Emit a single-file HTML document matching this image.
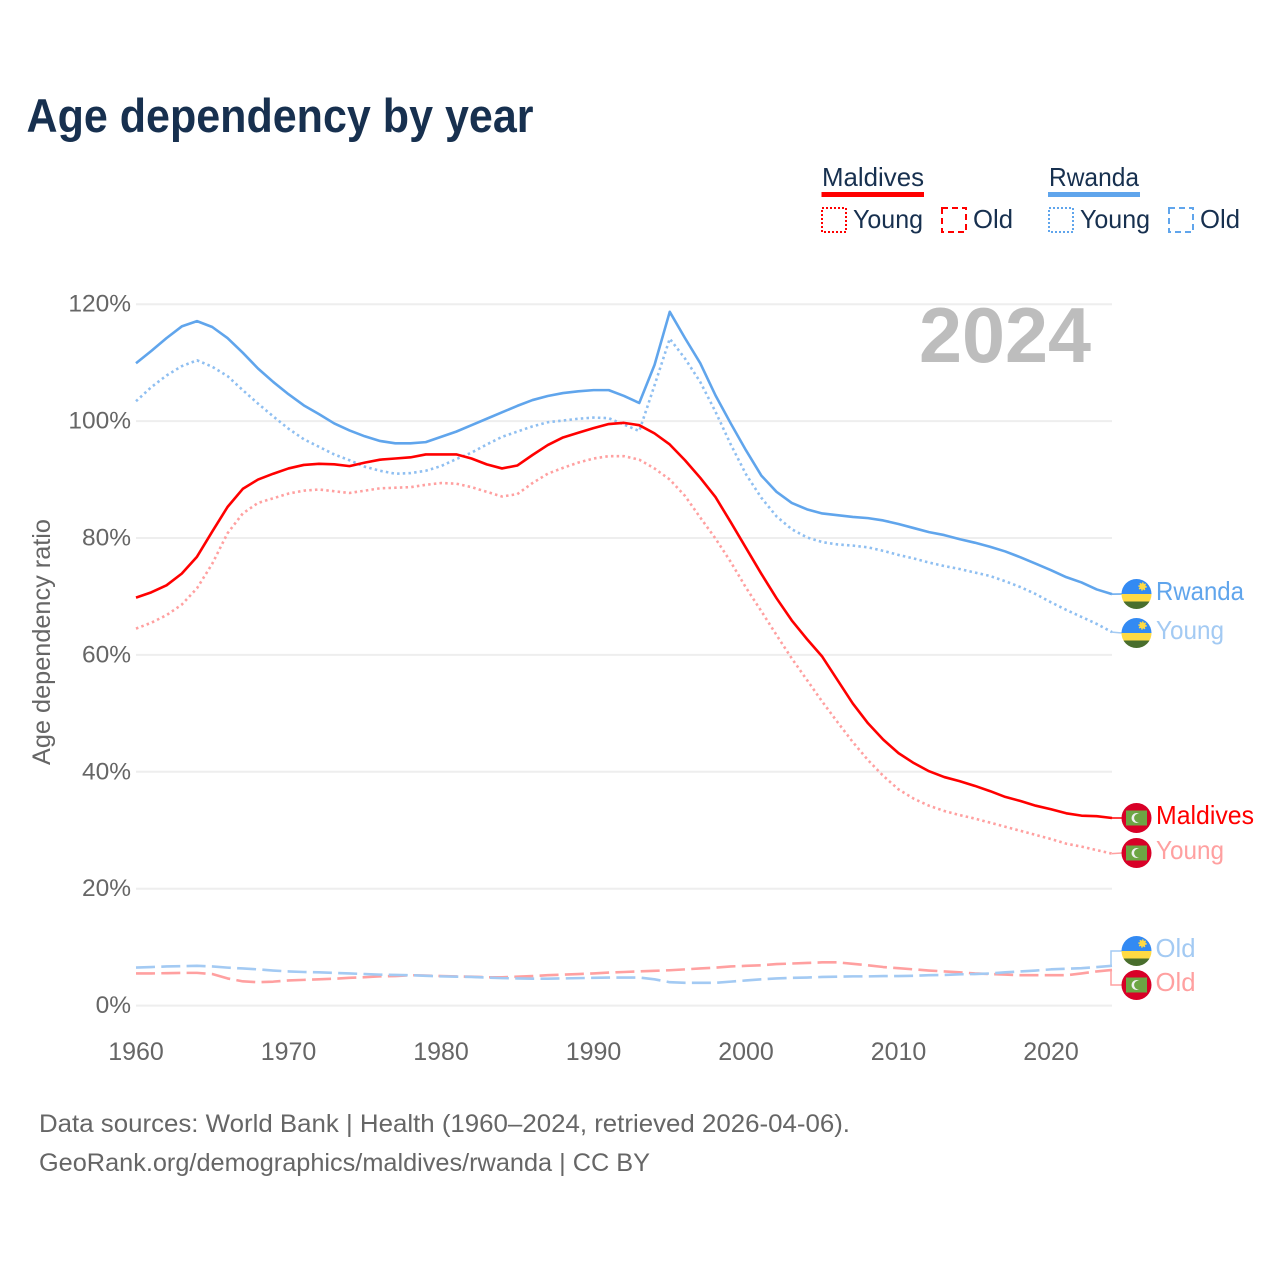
<!DOCTYPE html>
<html lang="en">
<head>
<meta charset="utf-8">
<title>Age dependency by year</title>
<style>
html,body{margin:0;padding:0;background:#fff;}
svg{display:block;font-family:"Liberation Sans",sans-serif;}
</style>
</head>
<body>
<svg id="chart" width="1280" height="1280" viewBox="0 0 1280 1280" xmlns="http://www.w3.org/2000/svg">
  <defs>
    <clipPath id="flag-clip"><circle cx="0" cy="0" r="15"></circle></clipPath>
  </defs>
  <rect x="0" y="0" width="1280" height="1280" fill="#fff"></rect>

  <text x="26.5" y="132" font-size="47" font-weight="700" fill="#17304f" textLength="507" lengthAdjust="spacingAndGlyphs">Age dependency by year</text>

  <g font-size="26" fill="#17304f">
    <text x="822" y="186" textLength="102" lengthAdjust="spacingAndGlyphs">Maldives</text>
    <rect x="821.5" y="192" width="102.5" height="5" fill="#ff0000"></rect>
    <rect x="822" y="208" width="24" height="24" fill="none" stroke="#ff0000" stroke-width="2" stroke-dasharray="2 2"></rect>
    <text x="853" y="228" textLength="70" lengthAdjust="spacingAndGlyphs">Young</text>
    <rect x="942" y="208" width="24" height="24" fill="none" stroke="#ff0000" stroke-width="2" stroke-dasharray="6 4"></rect>
    <text x="973" y="228" textLength="40" lengthAdjust="spacingAndGlyphs">Old</text>
    <text x="1049" y="186" textLength="90" lengthAdjust="spacingAndGlyphs">Rwanda</text>
    <rect x="1048" y="192" width="92" height="5" fill="#60a5ec"></rect>
    <rect x="1049" y="208" width="24" height="24" fill="none" stroke="#60a5ec" stroke-width="2" stroke-dasharray="2 2"></rect>
    <text x="1080" y="228" textLength="70" lengthAdjust="spacingAndGlyphs">Young</text>
    <rect x="1169" y="208" width="24" height="24" fill="none" stroke="#60a5ec" stroke-width="2" stroke-dasharray="6 4"></rect>
    <text x="1200" y="228" textLength="40" lengthAdjust="spacingAndGlyphs">Old</text>
  </g>

  <g id="grid"></g>
  <g id="y-ticks"></g>
  <g id="x-ticks"></g>

  <text x="919" y="362" font-size="78" font-weight="700" fill="#bdbdbd" textLength="172" lengthAdjust="spacingAndGlyphs">2024</text>

  <text transform="translate(50,765) rotate(-90)" font-size="25" fill="#666" textLength="246" lengthAdjust="spacingAndGlyphs">Age dependency ratio</text>

  <g id="series"></g>
  <g id="connectors"></g>

  <g transform="translate(1136.5,594)">
    <g clip-path="url(#flag-clip)">
      <rect x="-15" y="-15" width="30" height="15" fill="#338af3"></rect>
      <rect x="-15" y="0" width="30" height="7.5" fill="#ffda44"></rect>
      <rect x="-15" y="7.5" width="30" height="7.5" fill="#496e2d"></rect>
      <circle cx="6" cy="-7.5" r="3.2" fill="#ffda44" stroke="#ffda44" stroke-width="2" stroke-dasharray="1.2 1.2"></circle>
    </g>
  </g>
  <g transform="translate(1136.5,633)">
    <g clip-path="url(#flag-clip)">
      <rect x="-15" y="-15" width="30" height="15" fill="#338af3"></rect>
      <rect x="-15" y="0" width="30" height="7.5" fill="#ffda44"></rect>
      <rect x="-15" y="7.5" width="30" height="7.5" fill="#496e2d"></rect>
      <circle cx="6" cy="-7.5" r="3.2" fill="#ffda44" stroke="#ffda44" stroke-width="2" stroke-dasharray="1.2 1.2"></circle>
    </g>
  </g>
  <g transform="translate(1136.5,951)">
    <g clip-path="url(#flag-clip)">
      <rect x="-15" y="-15" width="30" height="15" fill="#338af3"></rect>
      <rect x="-15" y="0" width="30" height="7.5" fill="#ffda44"></rect>
      <rect x="-15" y="7.5" width="30" height="7.5" fill="#496e2d"></rect>
      <circle cx="6" cy="-7.5" r="3.2" fill="#ffda44" stroke="#ffda44" stroke-width="2" stroke-dasharray="1.2 1.2"></circle>
    </g>
  </g>
  <g transform="translate(1136.5,818)">
    <g clip-path="url(#flag-clip)">
      <rect x="-15" y="-15" width="30" height="30" fill="#d80027"></rect>
      <rect x="-10.5" y="-7.5" width="21" height="15" fill="#6da544"></rect>
      <circle cx="0" cy="0" r="5" fill="#f0f0f0"></circle>
      <circle cx="2" cy="0" r="4.4" fill="#6da544"></circle>
    </g>
  </g>
  <g transform="translate(1136.5,853)">
    <g clip-path="url(#flag-clip)">
      <rect x="-15" y="-15" width="30" height="30" fill="#d80027"></rect>
      <rect x="-10.5" y="-7.5" width="21" height="15" fill="#6da544"></rect>
      <circle cx="0" cy="0" r="5" fill="#f0f0f0"></circle>
      <circle cx="2" cy="0" r="4.4" fill="#6da544"></circle>
    </g>
  </g>
  <g transform="translate(1136.5,985)">
    <g clip-path="url(#flag-clip)">
      <rect x="-15" y="-15" width="30" height="30" fill="#d80027"></rect>
      <rect x="-10.5" y="-7.5" width="21" height="15" fill="#6da544"></rect>
      <circle cx="0" cy="0" r="5" fill="#f0f0f0"></circle>
      <circle cx="2" cy="0" r="4.4" fill="#6da544"></circle>
    </g>
  </g>

  <g font-size="26">
    <text x="1156" y="600" fill="#60a5ec" textLength="88" lengthAdjust="spacingAndGlyphs">Rwanda</text>
    <text x="1156" y="639" fill="#a3caf3" textLength="68" lengthAdjust="spacingAndGlyphs">Young</text>
    <text x="1156" y="824" fill="#ff0000" textLength="98" lengthAdjust="spacingAndGlyphs">Maldives</text>
    <text x="1156" y="859" fill="#ffa0a0" textLength="68" lengthAdjust="spacingAndGlyphs">Young</text>
    <text x="1155.5" y="957" fill="#a3caf3" textLength="40" lengthAdjust="spacingAndGlyphs">Old</text>
    <text x="1155.5" y="991" fill="#ffa0a0" textLength="40" lengthAdjust="spacingAndGlyphs">Old</text>
  </g>

  <g font-size="25" fill="#666">
    <text x="39" y="1132" textLength="811" lengthAdjust="spacingAndGlyphs">Data sources: World Bank | Health (1960–2024, retrieved 2026-04-06).</text>
    <text x="39" y="1171" textLength="611" lengthAdjust="spacingAndGlyphs">GeoRank.org/demographics/maldives/rwanda | CC BY</text>
  </g>
</svg>

<script>
const firstYear = 1960;
const xTickYears = [1960, 1970, 1980, 1990, 2000, 2010, 2020];
const yTickValues = [0, 20, 40, 60, 80, 100, 120];

const maldivesTotal = [69.8,70.7,71.9,73.9,76.8,81.1,85.3,88.4,90.0,91.0,
  91.9,92.5,92.7,92.6,92.3,92.9,93.4,93.6,93.8,94.3,
  94.3,94.3,93.6,92.6,91.9,92.4,94.2,95.9,97.2,98.0,
  98.8,99.5,99.7,99.3,97.9,96.0,93.3,90.3,87.0,82.7,
  78.3,73.9,69.7,65.9,62.7,59.7,55.7,51.7,48.3,45.5,
  43.2,41.5,40.1,39.1,38.4,37.6,36.7,35.7,35.0,34.2,
  33.6,32.9,32.5,32.4,32.1];
const maldivesYoung = [64.5,65.5,66.8,68.6,71.4,75.6,80.8,84.2,86.0,86.8,
  87.6,88.1,88.3,88.0,87.7,88.1,88.5,88.6,88.7,89.1,
  89.4,89.3,88.7,87.9,87.1,87.5,89.4,91.0,92.0,92.9,
  93.6,94.0,94.0,93.4,91.9,90.0,87.2,83.5,79.9,75.9,
  71.5,67.5,63.4,59.4,55.7,52.0,48.5,45.1,42.0,39.3,
  37.0,35.4,34.2,33.3,32.6,32.0,31.3,30.6,29.9,29.2,
  28.5,27.7,27.2,26.6,26.0];
const maldivesOld = [5.5,5.5,5.55,5.6,5.6,5.4,4.65,4.15,4.0,4.1,
  4.3,4.4,4.5,4.6,4.75,4.85,5.0,5.05,5.2,5.15,
  5.05,5.0,4.95,4.85,4.85,4.95,5.05,5.2,5.3,5.4,
  5.5,5.65,5.75,5.85,5.95,6.05,6.2,6.35,6.5,6.7,
  6.8,6.9,7.1,7.2,7.3,7.4,7.4,7.15,6.9,6.6,
  6.4,6.2,6.0,5.85,5.7,5.5,5.4,5.3,5.2,5.2,
  5.2,5.2,5.5,5.85,6.1];
const rwandaTotal = [109.9,112.0,114.2,116.2,117.1,116.1,114.2,111.7,109.0,106.7,
  104.6,102.7,101.2,99.6,98.4,97.4,96.6,96.2,96.2,96.4,
  97.3,98.2,99.3,100.4,101.5,102.6,103.6,104.3,104.8,105.1,
  105.3,105.3,104.3,103.1,109.6,118.7,114.2,109.9,104.4,99.6,
  95.0,90.7,87.9,86.0,84.9,84.2,83.9,83.6,83.4,83.0,
  82.4,81.7,81.0,80.5,79.8,79.2,78.5,77.7,76.7,75.6,
  74.5,73.3,72.4,71.2,70.4];
const rwandaYoung = [103.4,105.8,107.8,109.4,110.4,109.3,107.7,105.3,103.0,100.8,
  98.7,96.9,95.6,94.3,93.3,92.2,91.5,91.0,91.1,91.5,
  92.3,93.5,94.6,96.0,97.3,98.2,99.1,99.8,100.1,100.4,
  100.6,100.5,99.4,98.3,106.1,114.1,110.7,106.7,101.6,96.0,
  90.9,86.9,83.7,81.5,80.1,79.3,78.9,78.7,78.4,77.8,
  77.1,76.5,75.8,75.2,74.7,74.1,73.5,72.6,71.6,70.4,
  69.0,67.7,66.5,65.3,63.9];
const rwandaOld = [6.5,6.6,6.7,6.75,6.8,6.7,6.5,6.35,6.2,6.0,
  5.85,5.75,5.7,5.6,5.5,5.4,5.3,5.25,5.2,5.1,
  5.0,4.95,4.9,4.8,4.7,4.65,4.6,4.6,4.65,4.7,
  4.75,4.8,4.8,4.8,4.5,4.0,3.9,3.9,3.9,4.1,
  4.3,4.5,4.65,4.75,4.8,4.9,4.95,5.0,5.0,5.05,
  5.05,5.1,5.2,5.25,5.35,5.4,5.5,5.7,5.85,6.0,
  6.2,6.3,6.4,6.6,6.8];

const SVG_NS = 'http://www.w3.org/2000/svg';
function xScale(year) { return 136 + (year - 1960) * 15.25; }
function yScale(value) { return 1005.6 - value * 5.845; }
function make(tag, parentId) {
  const el = document.createElementNS(SVG_NS, tag);
  document.getElementById(parentId).appendChild(el);
  return el;
}
function pointsFor(values) {
  return values.map(function (v, i) {
    return xScale(firstYear + i).toFixed(2) + ',' + yScale(v).toFixed(2);
  }).join(' ');
}

yTickValues.forEach(function (v) {
  const line = make('line', 'grid');
  
  
  line.setAttribute('x1', 136);
  line.setAttribute('x2', 1112);
  line.setAttribute('y1', yScale(v));
  line.setAttribute('y2', yScale(v));
  line.setAttribute('stroke', '#eeeeee');
  line.setAttribute('stroke-width', 2);

  const label = make('text', 'y-ticks');
  
  
  label.setAttribute('x', 131);
  label.setAttribute('y', yScale(v) + 7.5);
  label.setAttribute('text-anchor', 'end');
  label.setAttribute('font-size', 24.5);
  label.setAttribute('fill', '#666');
  label.textContent = v + '%';
});

xTickYears.forEach(function (year) {
  const label = make('text', 'x-ticks');
  
  
  label.setAttribute('x', xScale(year));
  label.setAttribute('y', 1060);
  label.setAttribute('text-anchor', 'middle');
  label.setAttribute('font-size', 25);
  label.setAttribute('fill', '#666');
  label.textContent = year;
});

const lineMaldivesOld = make('polyline', 'series');


lineMaldivesOld.setAttribute('points', pointsFor(maldivesOld));
lineMaldivesOld.setAttribute('stroke', '#ffa0a0');
lineMaldivesOld.setAttribute('stroke-dasharray', '19 6.3');

const lineRwandaOld = make('polyline', 'series');


lineRwandaOld.setAttribute('points', pointsFor(rwandaOld));
lineRwandaOld.setAttribute('stroke', '#a3caf3');
lineRwandaOld.setAttribute('stroke-dasharray', '19 6.3');

const lineRwandaYoung = make('polyline', 'series');


lineRwandaYoung.setAttribute('points', pointsFor(rwandaYoung));
lineRwandaYoung.setAttribute('stroke', '#8fbff1');
lineRwandaYoung.setAttribute('stroke-dasharray', '2.5 3.2');

const lineMaldivesYoung = make('polyline', 'series');


lineMaldivesYoung.setAttribute('points', pointsFor(maldivesYoung));
lineMaldivesYoung.setAttribute('stroke', '#ffa0a0');
lineMaldivesYoung.setAttribute('stroke-dasharray', '2.5 3.2');

const lineRwandaTotal = make('polyline', 'series');


lineRwandaTotal.setAttribute('points', pointsFor(rwandaTotal));
lineRwandaTotal.setAttribute('stroke', '#60a5ec');

const lineMaldivesTotal = make('polyline', 'series');


lineMaldivesTotal.setAttribute('points', pointsFor(maldivesTotal));
lineMaldivesTotal.setAttribute('stroke', '#ff0000');

[lineMaldivesOld, lineRwandaOld, lineRwandaYoung, lineMaldivesYoung, lineRwandaTotal, lineMaldivesTotal].forEach(function (p) {
  p.setAttribute('fill', 'none');
  p.setAttribute('stroke-width', 2.6);
  p.setAttribute('stroke-linejoin', 'round');
});

const lastIndex = rwandaTotal.length - 1;
const endX = xScale(firstYear + lastIndex);

const connectorRwandaTotal = make('polyline', 'connectors');


connectorRwandaTotal.setAttribute('points', endX + ',' + yScale(rwandaTotal[lastIndex]) + ' 1122,594');
connectorRwandaTotal.setAttribute('stroke', '#60a5ec');

const connectorRwandaYoung = make('polyline', 'connectors');


connectorRwandaYoung.setAttribute('points', endX + ',' + yScale(rwandaYoung[lastIndex]) + ' 1122,633');
connectorRwandaYoung.setAttribute('stroke', '#a3caf3');

const connectorMaldivesTotal = make('polyline', 'connectors');


connectorMaldivesTotal.setAttribute('points', endX + ',' + yScale(maldivesTotal[lastIndex]) + ' 1122,818');
connectorMaldivesTotal.setAttribute('stroke', '#ff0000');

const connectorMaldivesYoung = make('polyline', 'connectors');


connectorMaldivesYoung.setAttribute('points', endX + ',' + yScale(maldivesYoung[lastIndex]) + ' 1122,853');
connectorMaldivesYoung.setAttribute('stroke', '#ffa0a0');

const connectorRwandaOld = make('polyline', 'connectors');


connectorRwandaOld.setAttribute('points', '1111,' + yScale(rwandaOld[lastIndex]) + ' 1111,951 1122,951');
connectorRwandaOld.setAttribute('stroke', '#a3caf3');

const connectorMaldivesOld = make('polyline', 'connectors');


connectorMaldivesOld.setAttribute('points', '1111,' + yScale(maldivesOld[lastIndex]) + ' 1111,985 1122,985');
connectorMaldivesOld.setAttribute('stroke', '#ffa0a0');

[connectorRwandaTotal, connectorRwandaYoung, connectorMaldivesTotal, connectorMaldivesYoung, connectorRwandaOld, connectorMaldivesOld].forEach(function (c) {
  c.setAttribute('fill', 'none');
  c.setAttribute('stroke-width', 1.5);
});
</script>
</body>
</html>
